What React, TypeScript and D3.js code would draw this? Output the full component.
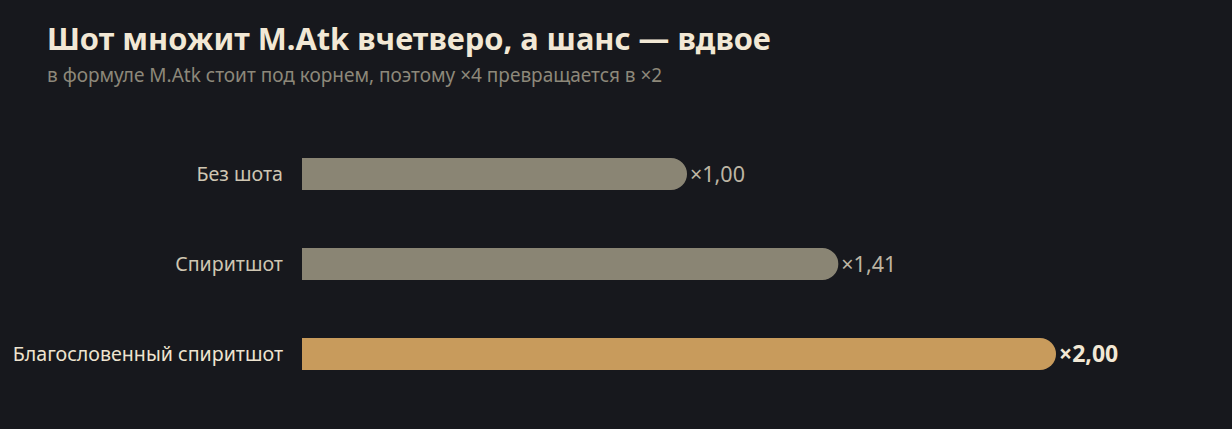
import * as React from "react";
import * as d3 from "d3";

const categories = ["Без шота", "Спиритшот", "Благословенный спиритшот"];
const multipliers = [1.0, 1.41, 2.0];
const valueLabels = ["×1,00", "×1,41", "×2,00"];
const highlighted = [false, false, true];

const title = "Шот множит M.Atk вчетверо, а шанс — вдвое";
const subtitle = "в формуле M.Atk стоит под корнем, поэтому ×4 превращается в ×2";

const W = 1232;
const H = 429;
const FONT = "'Noto Sans', 'Open Sans', sans-serif";

// flat left edge, round right cap that pokes out past the scale value
const barPath = (x0: number, x1: number, y: number, h: number) => {
  const r = h / 2;
  const p = d3.path();
  p.moveTo(x0, y);
  p.lineTo(x1, y);
  p.arc(x1, y + r, r, -Math.PI / 2, Math.PI / 2);
  p.lineTo(x0, y + h);
  p.closePath();
  return p.toString();
};

export default function App() {
  const x = d3.scaleLinear().domain([0, 2]).range([302, 1040]);
  const y = d3.scaleBand<string>().domain(categories).range([100, 428]).padding(0.644);
  const bh = y.bandwidth();

  return (
    <div style={{ position: "fixed", left: 0, top: 0, width: W, height: H, background: "#17181d" }}>
      <svg width={W} height={H} style={{ display: "block" }} fontFamily={FONT}>
        <rect width={W} height={H} fill="#17181d" />
        <text x={47} y={50} fontSize={30.8} fontWeight={700} fill="#f2e8d5">{title}</text>
        <text x={47} y={82} fontSize={19} fill="#8d887a">{subtitle}</text>
        {categories.map((c, i) => {
          const yy = y(c) as number;
          const cy = yy + bh / 2;
          const end = x(multipliers[i]);
          return (
            <g key={c}>
              <text x={283} y={cy} dy="0.35em" textAnchor="end" fontSize={19.6} fill={highlighted[i] ? "#eee4d0" : "#cfc6b2"}>
                {c}
              </text>
              <path d={barPath(x(0), end, yy, bh)} fill={highlighted[i] ? "#c89b5c" : "#8a8574"} />
              <text
                x={end + bh / 2 + 3}
                y={cy}
                dy="0.35em"
                fontSize={highlighted[i] ? 23 : 21.5}
                fontWeight={highlighted[i] ? 700 : 400}
                fill={highlighted[i] ? "#f2e8d5" : "#bdb5a3"}
              >
                {valueLabels[i]}
              </text>
            </g>
          );
        })}
      </svg>
    </div>
  );
}
